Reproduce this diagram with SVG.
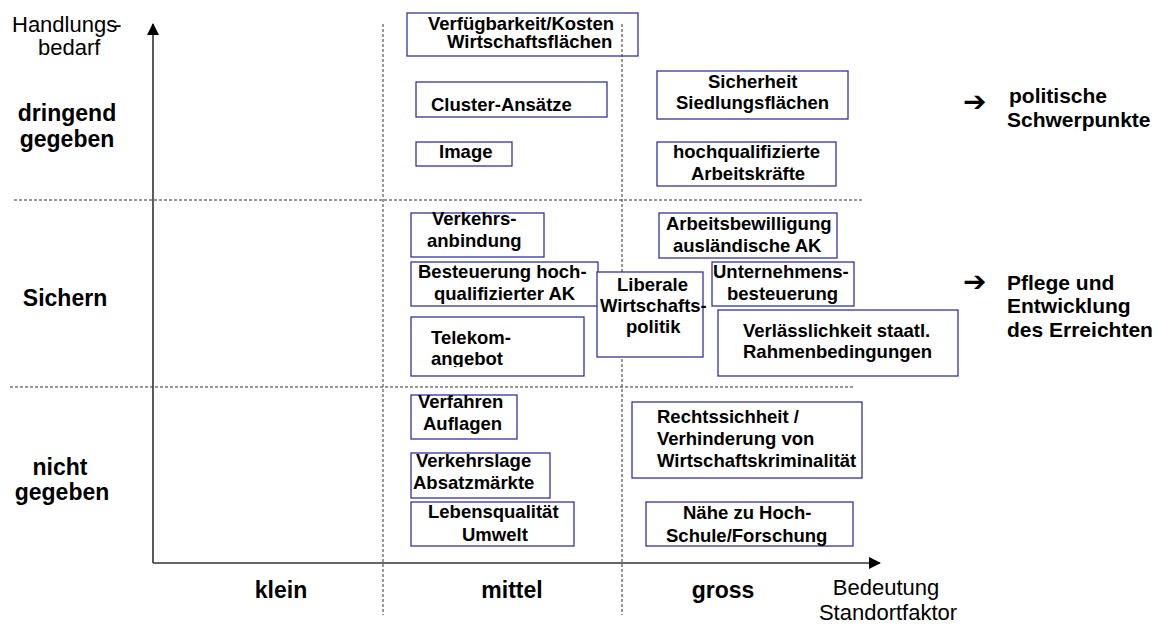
<svg xmlns="http://www.w3.org/2000/svg" width="1159" height="626" viewBox="0 0 1159 626">
<style>
text{font-family:"Liberation Sans",Arial,Helvetica,sans-serif;fill:#000}
.bx{font-size:18.5px;font-weight:bold}
.lab{font-size:23px;font-weight:bold}
.reg{font-size:22px}
.rl{font-size:21px;font-weight:bold}
.box{fill:none;stroke:#33339a;stroke-width:1.3}
.boxw{fill:#fff;stroke:#33339a;stroke-width:1.3}
.dash{stroke:#333;stroke-width:1;stroke-dasharray:3,2;fill:none}
.axis{stroke:#333;stroke-width:1.6;fill:none}
.arr{font-family:"DejaVu Sans",sans-serif;font-size:28px;font-weight:bold}
</style>
<defs>
<marker id="ah" markerWidth="12" markerHeight="12" refX="11" refY="6" orient="auto" markerUnits="userSpaceOnUse">
<path d="M0,0 L12,6 L0,12 Z" fill="#000"/>
</marker>
<clipPath id="telclip"><rect x="411" y="317" width="173" height="50"/></clipPath>
</defs>
<rect width="1159" height="626" fill="#fff"/>

<g id="grid">
<line class="dash" x1="383" y1="24" x2="383" y2="615"/>
<line class="dash" x1="622" y1="24" x2="622" y2="615"/>
<line class="dash" x1="14" y1="200" x2="862" y2="200"/>
<line class="dash" x1="10" y1="387" x2="855" y2="387"/>
</g>

<g id="connectors">
<line class="axis" x1="153" y1="563" x2="153" y2="24" marker-end="url(#ah)"/>
<line class="axis" x1="153" y1="563" x2="880" y2="563" marker-end="url(#ah)"/>
</g>

<g id="axis-labels">
<text class="reg" x="12" y="32" font-size="22.5">Handlungs<tspan dx="-3">-</tspan></text>
<text class="reg" x="38" y="55">bedarf</text>
<text class="lab" x="67" y="121" text-anchor="middle">dringend</text>
<text class="lab" x="67" y="147" text-anchor="middle">gegeben</text>
<text class="lab" x="65" y="306" text-anchor="middle">Sichern</text>
<text class="lab" x="60" y="475" text-anchor="middle">nicht</text>
<text class="lab" x="62" y="500" text-anchor="middle">gegeben</text>
<text class="lab" x="281" y="598" text-anchor="middle">klein</text>
<text class="lab" x="512" y="598" text-anchor="middle">mittel</text>
<text class="lab" x="723" y="598" text-anchor="middle">gross</text>
<text class="reg" x="886" y="595" text-anchor="middle">Bedeutung</text>
<text class="reg" x="888" y="620" text-anchor="middle">Standortfaktor</text>
</g>

<g id="right-labels">
<text class="arr" x="963" y="111">➔</text>
<text class="rl" x="1009" y="103">politische</text>
<text class="rl" x="1007" y="127">Schwerpunkte</text>
<text class="arr" x="963" y="291">➔</text>
<text class="rl" x="1007" y="290">Pflege und</text>
<text class="rl" x="1007" y="313">Entwicklung</text>
<text class="rl" x="1007" y="337">des Erreichten</text>
</g>

<g id="n-verfuegbarkeit">
<rect class="box" x="407" y="13" width="231" height="43"/>
<text class="bx" x="428" y="30">Verfügbarkeit/Kosten</text>
<text class="bx" x="447" y="48">Wirtschaftsflächen</text>
</g>
<g id="n-cluster">
<rect class="box" x="416" y="82" width="191" height="35"/>
<text class="bx" x="431" y="111">Cluster-Ansätze</text>
</g>
<g id="n-image">
<rect class="box" x="416" y="142" width="96" height="24"/>
<text class="bx" x="439" y="158">Image</text>
</g>
<g id="n-sicherheit">
<rect class="box" x="657" y="71" width="191" height="48"/>
<text class="bx" x="708" y="88">Sicherheit</text>
<text class="bx" x="676" y="109">Siedlungsflächen</text>
</g>
<g id="n-hochqualifizierte">
<rect class="box" x="657" y="142" width="179" height="44"/>
<text class="bx" x="673" y="158">hochqualifizierte</text>
<text class="bx" x="691" y="180">Arbeitskräfte</text>
</g>
<g id="n-verkehrsanbindung">
<rect class="box" x="411" y="213" width="133" height="44"/>
<text class="bx" x="432" y="225">Verkehrs-</text>
<text class="bx" x="427" y="247">anbindung</text>
</g>
<g id="n-besteuerung">
<rect class="box" x="411" y="262" width="187" height="44"/>
<text class="bx" x="418" y="278">Besteuerung hoch-</text>
<text class="bx" x="434" y="300">qualifizierter AK</text>
</g>
<g id="n-telekom">
<rect class="box" x="411" y="317" width="173" height="59"/>
<g clip-path="url(#telclip)">
<text class="bx" x="431" y="344">Telekom-</text>
<text class="bx" x="431" y="365">angebot</text>
</g>
</g>
<g id="n-liberale">
<rect class="boxw" x="597" y="272" width="106" height="85"/>
<text class="bx" x="617" y="291">Liberale</text>
<text class="bx" x="600" y="312">Wirtschafts-</text>
<text class="bx" x="626" y="333">politik</text>
</g>
<g id="n-arbeitsbewilligung">
<rect class="box" x="659" y="213" width="178" height="45"/>
<text class="bx" x="666" y="230">Arbeitsbewilligung</text>
<text class="bx" x="673" y="252">ausländische AK</text>
</g>
<g id="n-unternehmens">
<rect class="box" x="712" y="262" width="142" height="44"/>
<text class="bx" x="713" y="278">Unternehmens-</text>
<text class="bx" x="727" y="300">besteuerung</text>
</g>
<g id="n-verlaesslichkeit">
<rect class="box" x="718" y="310" width="240" height="66"/>
<text class="bx" x="743" y="337">Verlässlichkeit staatl.</text>
<text class="bx" x="743" y="358">Rahmenbedingungen</text>
</g>
<g id="n-verfahren">
<rect class="box" x="411" y="395" width="106" height="44"/>
<text class="bx" x="418" y="408">Verfahren</text>
<text class="bx" x="423" y="430">Auflagen</text>
</g>
<g id="n-verkehrslage">
<rect class="box" x="411" y="453" width="139" height="45"/>
<text class="bx" x="416" y="467">Verkehrslage</text>
<text class="bx" x="413" y="489">Absatzmärkte</text>
</g>
<g id="n-lebensqualitaet">
<rect class="box" x="411" y="502" width="163" height="44"/>
<text class="bx" x="428" y="518">Lebensqualität</text>
<text class="bx" x="462" y="541">Umwelt</text>
</g>
<g id="n-rechtssicherheit">
<rect class="box" x="632" y="402" width="230" height="76"/>
<text class="bx" x="657" y="423">Rechtssichheit /</text>
<text class="bx" x="657" y="445">Verhinderung von</text>
<text class="bx" x="657" y="467">Wirtschaftskriminalität</text>
</g>
<g id="n-naehe">
<rect class="box" x="646" y="502" width="207" height="44"/>
<text class="bx" x="683" y="519">Nähe zu Hoch-</text>
<text class="bx" x="666" y="542">Schule/Forschung</text>
</g>
</svg>
